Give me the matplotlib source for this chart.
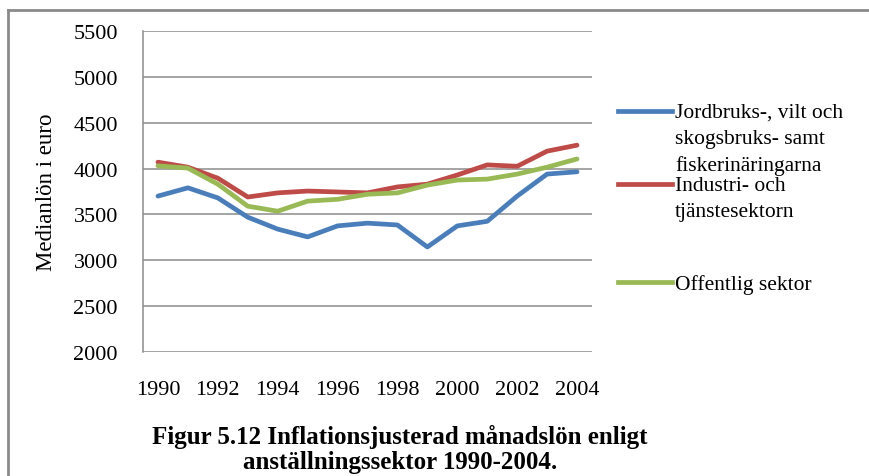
import matplotlib.pyplot as plt
from matplotlib.lines import Line2D

# Data
years = list(range(1990, 2005))
jordbruk = [3700, 3790, 3680, 3470, 3340, 3255, 3375, 3405, 3385, 3145, 3375, 3425, 3700, 3940, 3965]
industri = [4070, 4015, 3895, 3690, 3735, 3755, 3745, 3735, 3800, 3830, 3930, 4040, 4025, 4190, 4255]
offentlig = [4030, 4005, 3830, 3590, 3535, 3645, 3665, 3720, 3735, 3820, 3875, 3885, 3940, 4015, 4105]

series_labels = ['Jordbruks-, vilt och\nskogsbruks- samt\nfiskerinäringarna',
                 'Industri- och\ntjänstesektorn',
                 'Offentlig sektor']
colors = ['#4A7EBB', '#BE4B48', '#98B954']
yticks = [2000, 2500, 3000, 3500, 4000, 4500, 5000, 5500]
xticks = [1990, 1992, 1994, 1996, 1998, 2000, 2002, 2004]

plt.rcParams['font.family'] = ['Liberation Serif', 'DejaVu Serif']

W, H = 869, 477
fig = plt.figure(figsize=(W / 100, H / 100), dpi=100)
ax = fig.add_axes([143 / W, 1 - 353 / H, 449 / W, 321 / H])

for vals, c in zip([jordbruk, industri, offentlig], colors):
    ax.plot(years, vals, color=c, linewidth=3.4, solid_capstyle='round', zorder=3)

ax.set_xlim(1989.5, 2004.5)
ax.set_ylim(2000, 5500)
ax.set_yticks(yticks)
ax.set_xticks(xticks)
ax.tick_params(axis='both', length=0, labelsize=16, colors='black')
ax.tick_params(axis='y', pad=18)
ax.tick_params(axis='x', pad=20)
ax.grid(True, axis='y', color='#8c8c8c', linewidth=1.1)
for s in ['top', 'right', 'bottom']:
    ax.spines[s].set_visible(False)
ax.spines['left'].set_color('#8c8c8c')
ax.spines['left'].set_linewidth(1.1)
ax.set_ylabel('Medianlön i euro', fontsize=16.5, labelpad=12)

# manual legend (Excel-style, swatch aligned to first text line)
leg_rows = [112, 185, 283]
for lab, c, yy in zip(series_labels, colors, leg_rows):
    fig.add_artist(Line2D([618 / W, 672 / W], [1 - yy / H, 1 - yy / H],
                          color=c, linewidth=3.4, transform=fig.transFigure))
    fig.text(675 / W, 1 - (yy - 8) / H, lab, fontsize=15.5, va='top', ha='left',
             linespacing=1.48)

# caption
fig.text(400 / W, 1 - 437 / H, 'Figur 5.12 Inflationsjusterad månadslön enligt',
         fontsize=18, fontweight='bold', ha='center', va='center')
fig.text(400 / W, 1 - 463 / H, 'anställningssektor 1990-2004.',
         fontsize=18, fontweight='bold', ha='center', va='center')

# outer frame (top and left only visible)
fig.add_artist(Line2D([8 / W, 1], [1 - 11 / H, 1 - 11 / H], color='#8a8a8a',
                      linewidth=2, transform=fig.transFigure))
fig.add_artist(Line2D([8 / W, 8 / W], [0, 1 - 11 / H], color='#8a8a8a',
                      linewidth=2, transform=fig.transFigure))

fig.savefig('out.png', dpi=100, facecolor='white')
